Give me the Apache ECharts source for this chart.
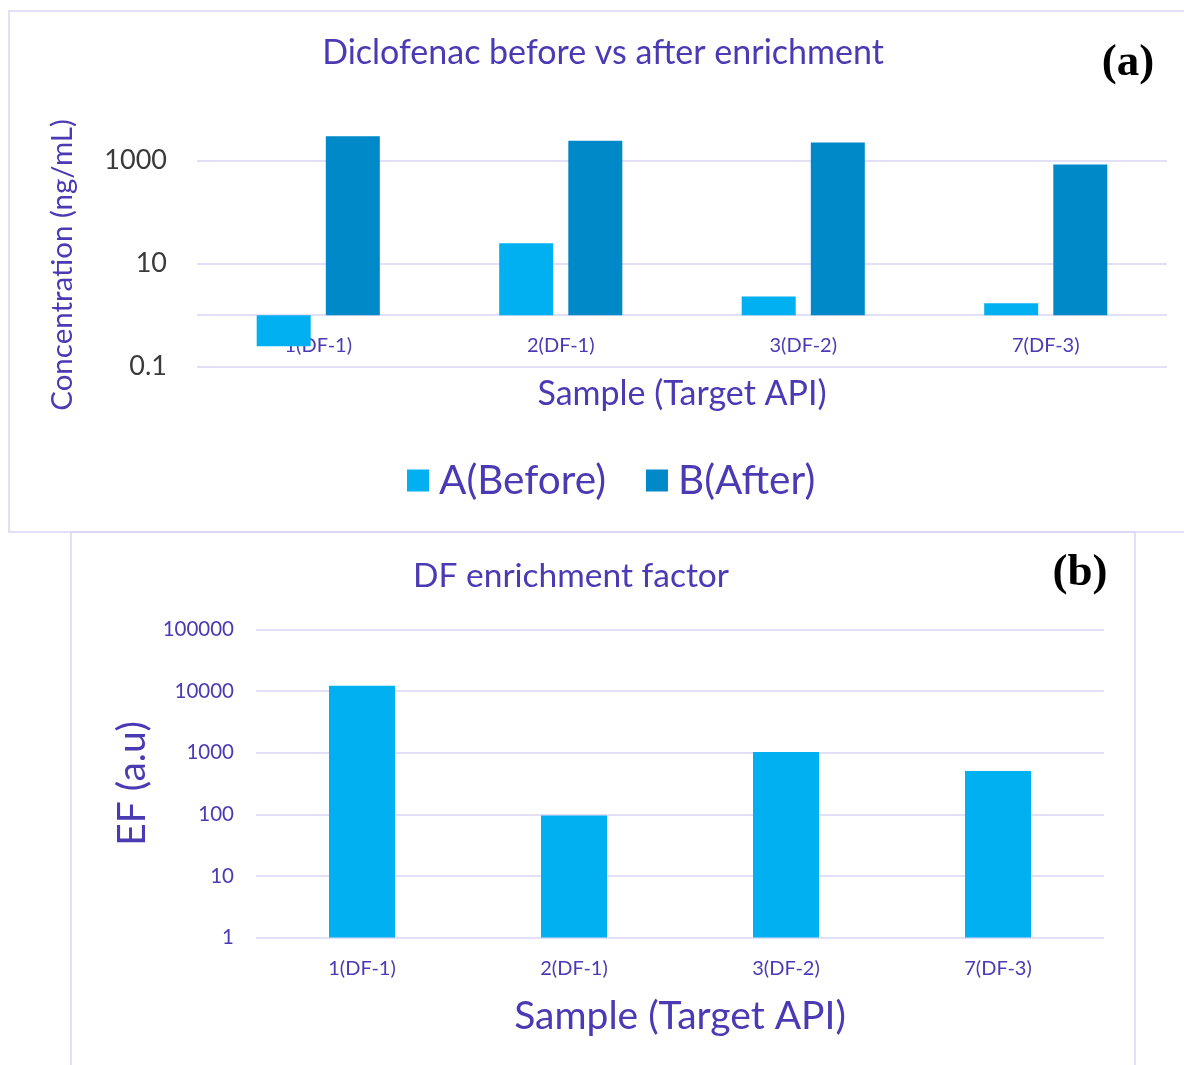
<!DOCTYPE html>
<html><head><meta charset="utf-8">
<script src="https://cdn.jsdelivr.net/npm/echarts@6/dist/echarts.min.js"></script>
<style>html,body{margin:0;padding:0;background:#fff}#c{width:1184px;height:1065px}</style>
</head><body><div id="c"></div>
<script>
// ---- data ----
const categories = ['1(DF-1)', '2(DF-1)', '3(DF-2)', '7(DF-3)'];
const beforeValues = [0.25, 25, 2.3, 1.7];      // A(Before), ng/mL
const afterValues = [3000, 2440, 2260, 840];    // B(After), ng/mL
const efValues = [12200, 96, 1025, 505];        // enrichment factor
const concTickLabels = ['0.1', '10', '1000'];
const concGridValues = [0.1, 1, 10, 1000];
const concAxisTicks = [0.1, 1, 10, 100, 1000, 10000];

const PURPLE = '#4a3ab4';
const GRID = '#d9d5f3';
const FONT = 'Lato';
const LIGHT = '#00b0f0';
const DARK = '#0089c9';

const chart = echarts.init(document.getElementById('c'), null, {renderer: 'canvas'});

function isTick(v, list) {
  return list.some(t => Math.abs(Math.log10(v) - Math.log10(t)) < 1e-6);
}
const concSplitColors = concAxisTicks.map(v => isTick(v, concGridValues) ? GRID : 'rgba(0,0,0,0)');

const option = {
  backgroundColor: '#ffffff',
  animation: false,
  textStyle: {fontFamily: FONT},
  graphic: [
    {type: 'rect', shape: {x: 9, y: 11, width: 1200, height: 521}, style: {fill: 'none', stroke: GRID, lineWidth: 1.5}, silent: true, z: -10},
    {type: 'rect', shape: {x: 71, y: 532, width: 1064, height: 600}, style: {fill: 'none', stroke: GRID, lineWidth: 1.5}, silent: true, z: -10}
  ],
  title: [
    {text: 'Diclofenac before vs after enrichment', left: 603, top: 53, textAlign: 'center', textVerticalAlign: 'middle', padding: 0,
      textStyle: {fontFamily: FONT, fontSize: 34, fontWeight: 'normal', color: PURPLE}},
    {text: '(a)', left: 1128, top: 63, textAlign: 'center', textVerticalAlign: 'middle', padding: 0,
      textStyle: {fontFamily: 'Liberation Serif', fontSize: 45, fontWeight: 'bold', color: '#000'}},
    {text: 'DF enrichment factor', left: 571, top: 576, textAlign: 'center', textVerticalAlign: 'middle', padding: 0,
      textStyle: {fontFamily: FONT, fontSize: 33.5, fontWeight: 'normal', color: PURPLE}},
    {text: '(b)', left: 1080, top: 573, textAlign: 'center', textVerticalAlign: 'middle', padding: 0,
      textStyle: {fontFamily: 'Liberation Serif', fontSize: 45, fontWeight: 'bold', color: '#000'}}
  ],
  legend: {
    data: ['A(Before)', 'B(After)'],
    left: 407, top: 460,
    icon: 'rect', itemWidth: 22, itemHeight: 22, itemGap: 40, padding: 0,
    textStyle: {fontFamily: FONT, fontSize: 40.5, color: PURPLE, padding: [0, 0, 0, 5]},
    selectedMode: false
  },
  grid: [
    {left: 197, right: 17, top: 109.2, bottom: 1065 - 366.7, containLabel: false},
    {left: 256, right: 80, top: 629.5, bottom: 1065 - 937.5, containLabel: false}
  ],
  xAxis: [
    {type: 'category', gridIndex: 0, data: categories,
      axisLine: {show: false}, axisTick: {show: false},
      axisLabel: {inside: true, margin: 11, fontFamily: FONT, fontSize: 20, color: PURPLE},
      name: 'Sample (Target API)', nameLocation: 'middle', nameGap: 10,
      nameTextStyle: {fontFamily: FONT, fontSize: 34, color: PURPLE, verticalAlign: 'top'}},
    {type: 'category', gridIndex: 1, data: categories,
      axisLine: {show: false}, axisTick: {show: false},
      axisLabel: {margin: 21, fontFamily: FONT, fontSize: 20, color: PURPLE},
      name: 'Sample (Target API)', nameLocation: 'middle', nameGap: 59,
      nameTextStyle: {fontFamily: FONT, fontSize: 39, color: PURPLE, verticalAlign: 'top'}}
  ],
  yAxis: [
    {type: 'log', logBase: 10, gridIndex: 0, min: 0.1, max: 10000,
      axisLine: {show: false}, axisTick: {show: false},
      splitLine: {show: true, lineStyle: {color: concSplitColors, width: 1.5}},
      axisLabel: {margin: 30, fontFamily: FONT, fontSize: 27, color: '#3a3a3a',
        formatter: v => {
          const i = concTickLabels.findIndex(t => Math.abs(Math.log10(v) - Math.log10(parseFloat(t))) < 1e-6);
          return i >= 0 ? concTickLabels[i] : '';
        }},
      name: 'Concentration (ng/mL)', nameLocation: 'middle', nameGap: 120,
      nameTextStyle: {fontFamily: FONT, fontSize: 29.5, color: PURPLE, padding: [0, 54, 0, 0]}},
    {type: 'log', logBase: 10, gridIndex: 1, min: 1, max: 100000,
      axisLine: {show: false}, axisTick: {show: false},
      splitLine: {show: true, lineStyle: {color: GRID, width: 1.5}},
      axisLabel: {margin: 22, fontFamily: FONT, fontSize: 20.5, color: PURPLE,
        formatter: v => String(Math.round(v))},
      name: 'EF (a.u)', nameLocation: 'middle', nameGap: 86,
      nameTextStyle: {fontFamily: FONT, fontSize: 39, color: PURPLE}}
  ],
  series: [
    {name: 'A(Before)', type: 'bar', xAxisIndex: 0, yAxisIndex: 0, data: beforeValues,
      barWidth: 54, barGap: '28%', itemStyle: {color: LIGHT}},
    {name: 'B(After)', type: 'bar', xAxisIndex: 0, yAxisIndex: 0, data: afterValues,
      barWidth: 54, barGap: '28%', itemStyle: {color: DARK}},
    {name: 'EF', type: 'bar', xAxisIndex: 1, yAxisIndex: 1, data: efValues,
      barWidth: 66, itemStyle: {color: LIGHT}}
  ]
};
chart.setOption(option);
</script>
</body></html>
